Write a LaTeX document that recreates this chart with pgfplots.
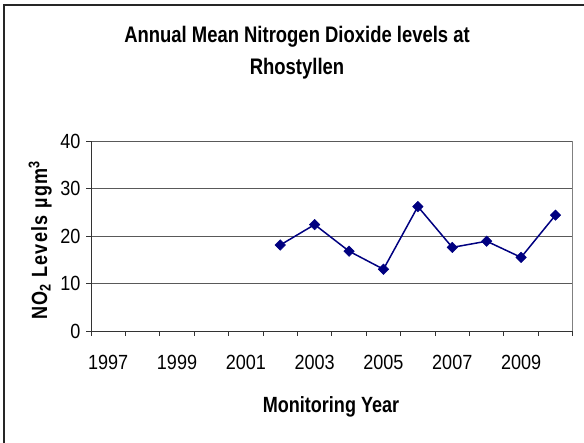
\documentclass[border=0pt]{standalone}
\usepackage{fontspec}
\setmainfont{Liberation Sans}[FakeStretch=0.88]
\newfontfamily\narrowbold{Liberation Sans}[FakeStretch=0.82]
\newfontfamily\ylabfont{Liberation Sans}[FakeStretch=0.82,LetterSpace=6]
\usepackage{pgfplots}
\usepackage{pgfplotstable}
\pgfplotsset{compat=1.18}
\definecolor{navy}{RGB}{0,0,128}
\pgfplotstableread{
year value
2002 18.1
2003 22.4
2004 16.8
2005 13.0
2006 26.2
2007 17.6
2008 18.9
2009 15.5
2010 24.4
}\nodata
\begin{document}
\begin{tikzpicture}[x=1pt,y=1pt]
\useasboundingbox (0,0) rectangle (584,443);
\draw[black!85,line width=1.3pt] (4,0) -- (4,438) -- (584,438);
\begin{axis}[
  at={(91pt,112pt)}, anchor=south west,
  scale only axis, width=481.7pt, height=190pt,
  xmin=0, xmax=14, ymin=0, ymax=40,
  axis lines=left, axis line style={-, black!80, line width=0.9pt},
  xtick={0,...,14},
  xticklabels={1997,{},1999,{},2001,{},2003,{},2005,{},2007,{},2009,{},{}},
  x tick label as interval,
  ytick={0,10,20,30,40},
  ymajorgrids, grid style={black!65, line width=0.7pt},
  tick align=outside, major tick length=5pt,
  tick style={black!80, line width=0.8pt},
  /pgf/number format/assume math mode=true,
  ticklabel style={font=\fontsize{20.5}{22}\selectfont},
  yticklabel style={xshift=-2pt},
  xticklabel style={yshift=-16pt},
  clip=false,
]
\addplot[navy, line width=1.5pt, mark=square*, mark size=3.7pt,
  mark options={fill=navy, draw=navy, line width=0.5pt, rotate=45}]
  table[x expr=\thisrow{year}-1996.5, y=value] {\nodata};
\draw[black!50, line width=0.8pt] (rel axis cs:1,0) -- (rel axis cs:1,1);
\end{axis}
\node[anchor=base, font=\narrowbold\bfseries\fontsize{22.5}{24}\selectfont, inner sep=0] at (297,400.3) {Annual Mean Nitrogen Dioxide levels at};
\node[anchor=base, font=\narrowbold\bfseries\fontsize{22.5}{24}\selectfont, inner sep=0] at (297,368) {Rhostyllen};
\node[anchor=base, font=\narrowbold\bfseries\fontsize{22}{24}\selectfont, inner sep=0] at (331,30.3) {Monitoring Year};
\node[anchor=base, rotate=90, font=\ylabfont\bfseries\fontsize{22}{24}\selectfont, inner sep=0] at (47,202.5) {NO\textsubscript{2} Levels µgm\textsuperscript{3}};
\end{tikzpicture}
\end{document}
